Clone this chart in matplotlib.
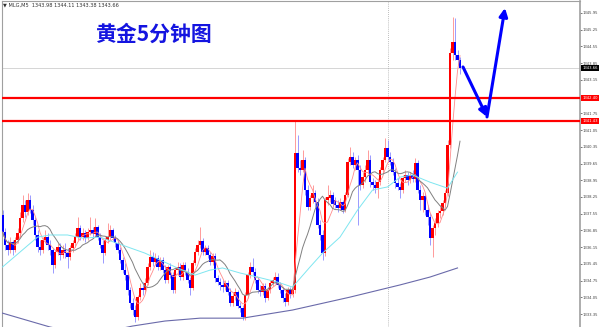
import matplotlib
matplotlib.use("Agg")
import matplotlib.pyplot as plt
import matplotlib.transforms as mtransforms
import numpy as np
import pandas as pd

# 5 minute gold candles (oldest first)
opens = [
    1337.49, 1336.78, 1336.24, 1336.03, 1336.36, 1336.03, 1336.45, 1336.74, 1337.37, 1337.91,
    1337.62, 1338.12, 1337.70, 1337.28, 1336.66, 1336.16, 1336.03, 1336.45, 1336.57, 1336.24,
    1336.03, 1335.40, 1335.95, 1336.16, 1335.82, 1336.03, 1335.90, 1335.74, 1336.11, 1336.32,
    1336.57, 1336.95, 1336.57, 1336.74, 1336.53, 1336.78, 1336.87, 1336.70, 1336.99, 1336.57,
    1336.24, 1335.90, 1336.45, 1336.57, 1336.87, 1336.53, 1336.32, 1336.03, 1335.61, 1335.19,
    1334.98, 1334.36, 1333.81, 1333.52, 1333.23, 1334.06, 1334.44, 1334.36, 1334.65, 1335.32,
    1335.74, 1335.53, 1335.70, 1335.32, 1335.61, 1335.19, 1334.77, 1335.32, 1334.98, 1334.36,
    1335.19, 1335.32, 1334.90, 1335.40, 1335.11, 1334.77, 1334.44, 1335.49, 1335.95, 1336.24,
    1336.41, 1335.95, 1336.11, 1335.82, 1335.53, 1335.78, 1334.86, 1334.69, 1334.57, 1334.48,
    1334.65, 1334.27, 1333.81, 1334.11, 1334.27, 1333.69, 1333.60, 1333.23, 1334.15, 1334.98,
    1335.32, 1335.11, 1334.77, 1334.36, 1334.27, 1334.52, 1334.02, 1334.36, 1334.65, 1334.77,
    1334.90, 1334.57, 1334.36, 1334.02, 1333.85, 1334.36, 1334.19, 1334.36, 1340.09, 1339.46,
    1339.38, 1339.80, 1338.54, 1337.83, 1338.21, 1338.41, 1338.04, 1337.08, 1336.66, 1335.90,
    1338.12, 1338.21, 1338.33, 1338.12, 1337.91, 1337.79, 1338.04, 1337.70, 1338.33, 1339.71,
    1339.92, 1339.59, 1339.80, 1339.38, 1338.75, 1339.08, 1339.38, 1339.80, 1338.87, 1338.75,
    1338.62, 1338.87, 1339.38, 1339.80, 1340.30, 1339.92, 1339.71, 1339.29, 1338.83, 1338.67,
    1338.54, 1339.04, 1339.17, 1338.96, 1339.17, 1339.00, 1339.67, 1338.54, 1338.12, 1338.29,
    1337.70, 1337.41, 1336.53, 1336.95, 1337.16, 1337.58, 1337.66, 1338.00, 1338.41, 1340.42,
    1344.27, 1344.73, 1344.19, 1343.98,
]
highs = [
    1337.70, 1336.95, 1336.45, 1336.57, 1336.45, 1336.57, 1336.95, 1337.62, 1338.33, 1338.12,
    1338.41, 1338.33, 1337.91, 1337.41, 1336.87, 1336.45, 1336.57, 1336.87, 1336.74, 1336.45,
    1336.11, 1336.03, 1336.32, 1336.32, 1336.24, 1336.32, 1336.11, 1336.24, 1336.45, 1336.74,
    1337.41, 1337.08, 1336.95, 1336.87, 1336.95, 1337.41, 1336.99, 1337.37, 1337.08, 1336.74,
    1336.45, 1336.57, 1337.16, 1337.08, 1336.95, 1336.66, 1336.45, 1336.16, 1335.74, 1335.49,
    1335.11, 1334.48, 1334.02, 1333.73, 1334.15, 1334.65, 1334.69, 1334.86, 1335.49, 1336.03,
    1335.95, 1335.90, 1335.82, 1335.74, 1335.74, 1335.40, 1335.40, 1335.49, 1335.11, 1335.32,
    1335.53, 1335.49, 1335.53, 1335.53, 1335.28, 1334.90, 1335.61, 1336.11, 1336.45, 1336.99,
    1336.53, 1336.24, 1336.24, 1335.95, 1335.90, 1335.90, 1334.98, 1334.86, 1334.77, 1334.77,
    1334.77, 1334.44, 1334.27, 1334.44, 1334.36, 1333.85, 1333.73, 1334.27, 1335.11, 1335.53,
    1335.70, 1335.28, 1334.90, 1334.57, 1334.65, 1334.65, 1334.48, 1334.77, 1334.90, 1335.11,
    1335.07, 1334.69, 1334.48, 1334.23, 1334.48, 1334.48, 1334.52, 1341.43, 1340.84, 1339.80,
    1340.21, 1339.92, 1338.75, 1338.33, 1338.75, 1338.54, 1338.21, 1337.28, 1336.87, 1338.25,
    1338.75, 1338.54, 1338.46, 1338.25, 1338.12, 1338.21, 1338.12, 1338.46, 1339.88, 1340.34,
    1340.13, 1339.92, 1340.00, 1339.59, 1339.29, 1339.59, 1340.21, 1340.00, 1339.04, 1338.96,
    1339.04, 1339.50, 1339.92, 1340.72, 1340.63, 1340.13, 1339.88, 1339.46, 1339.04, 1338.83,
    1339.17, 1339.38, 1339.29, 1339.29, 1339.38, 1339.88, 1339.80, 1338.75, 1338.46, 1338.41,
    1337.91, 1337.58, 1337.08, 1337.37, 1337.70, 1337.91, 1338.12, 1338.54, 1340.63, 1344.48,
    1345.78, 1345.74, 1344.40, 1344.11,
]
lows = [
    1336.62, 1336.03, 1335.82, 1335.90, 1335.82, 1335.95, 1336.32, 1336.57, 1337.20, 1337.41,
    1337.49, 1337.58, 1337.08, 1336.45, 1335.95, 1335.82, 1335.90, 1336.32, 1336.03, 1335.82,
    1335.07, 1335.28, 1335.82, 1335.61, 1335.70, 1335.70, 1335.28, 1335.61, 1335.95, 1336.16,
    1336.45, 1336.45, 1336.45, 1336.36, 1336.45, 1336.66, 1336.53, 1336.57, 1336.45, 1336.11,
    1335.49, 1335.82, 1336.32, 1336.45, 1336.41, 1336.16, 1335.90, 1335.49, 1335.07, 1334.77,
    1334.15, 1333.60, 1333.31, 1333.02, 1333.10, 1333.94, 1334.15, 1334.23, 1334.57, 1335.19,
    1335.36, 1335.40, 1335.19, 1335.19, 1335.07, 1334.65, 1334.65, 1334.86, 1334.23, 1334.23,
    1334.98, 1334.77, 1334.77, 1334.98, 1334.65, 1334.15, 1334.36, 1335.40, 1335.82, 1336.11,
    1335.82, 1335.82, 1335.70, 1335.40, 1335.40, 1334.69, 1334.57, 1334.36, 1334.27, 1334.36,
    1334.15, 1333.69, 1333.69, 1333.94, 1333.60, 1333.44, 1333.10, 1333.10, 1334.02, 1334.86,
    1334.98, 1334.65, 1334.23, 1334.11, 1334.15, 1333.85, 1333.94, 1334.23, 1334.52, 1334.65,
    1334.44, 1334.23, 1333.85, 1333.69, 1333.73, 1334.02, 1334.06, 1334.23, 1339.29, 1339.17,
    1339.29, 1338.33, 1337.70, 1337.70, 1338.00, 1337.83, 1336.95, 1336.45, 1335.61, 1335.78,
    1337.91, 1338.04, 1337.83, 1337.79, 1337.62, 1337.70, 1337.58, 1337.62, 1338.25, 1339.59,
    1339.46, 1339.38, 1337.08, 1338.54, 1338.62, 1338.87, 1339.25, 1338.67, 1338.54, 1338.41,
    1338.21, 1338.75, 1339.25, 1339.71, 1339.80, 1339.59, 1339.17, 1338.62, 1338.54, 1338.21,
    1338.41, 1338.87, 1338.75, 1338.83, 1338.87, 1338.87, 1338.41, 1337.70, 1337.62, 1337.49,
    1337.08, 1336.24, 1335.74, 1336.66, 1336.99, 1337.37, 1337.49, 1337.83, 1338.29, 1340.30,
    1343.98, 1343.98, 1343.77, 1343.38,
]
closes = [
    1336.78, 1336.24, 1336.03, 1336.36, 1336.03, 1336.45, 1336.74, 1337.37, 1337.91, 1337.62,
    1338.12, 1337.70, 1337.28, 1336.66, 1336.16, 1336.03, 1336.45, 1336.57, 1336.24, 1336.03,
    1335.40, 1335.95, 1336.16, 1335.82, 1336.03, 1335.90, 1335.74, 1336.11, 1336.32, 1336.57,
    1336.95, 1336.57, 1336.74, 1336.53, 1336.78, 1336.87, 1336.70, 1336.99, 1336.57, 1336.24,
    1335.90, 1336.45, 1336.57, 1336.87, 1336.53, 1336.32, 1336.03, 1335.61, 1335.19, 1334.98,
    1334.36, 1333.81, 1333.52, 1333.23, 1334.06, 1334.44, 1334.36, 1334.65, 1335.32, 1335.74,
    1335.53, 1335.70, 1335.32, 1335.61, 1335.19, 1334.77, 1335.32, 1334.98, 1334.36, 1335.19,
    1335.32, 1334.90, 1335.40, 1335.11, 1334.77, 1334.44, 1335.49, 1335.95, 1336.24, 1336.41,
    1335.95, 1336.11, 1335.82, 1335.53, 1335.78, 1334.86, 1334.69, 1334.57, 1334.48, 1334.65,
    1334.27, 1333.81, 1334.11, 1334.27, 1333.69, 1333.60, 1333.23, 1334.15, 1334.98, 1335.32,
    1335.11, 1334.77, 1334.36, 1334.27, 1334.52, 1334.02, 1334.36, 1334.65, 1334.77, 1334.90,
    1334.57, 1334.36, 1334.02, 1333.85, 1334.36, 1334.19, 1334.36, 1340.09, 1339.46, 1339.38,
    1339.80, 1338.54, 1337.83, 1338.21, 1338.41, 1338.04, 1337.08, 1336.66, 1335.90, 1338.12,
    1338.25, 1338.33, 1337.95, 1337.91, 1337.79, 1338.04, 1337.70, 1338.33, 1339.71, 1339.92,
    1339.59, 1339.80, 1339.38, 1338.75, 1339.08, 1339.38, 1339.80, 1338.87, 1338.75, 1338.62,
    1338.87, 1339.38, 1339.80, 1340.30, 1339.92, 1339.71, 1339.29, 1338.83, 1338.67, 1338.54,
    1339.04, 1339.17, 1338.96, 1339.17, 1339.00, 1339.67, 1338.54, 1338.12, 1338.29, 1337.70,
    1337.41, 1336.53, 1336.95, 1337.16, 1337.58, 1337.66, 1338.00, 1338.41, 1340.42, 1344.27,
    1344.73, 1344.19, 1343.98, 1343.66,
]

# slower averages, read as points (their history starts left of the screen)
cyan_idx = [0, 14, 19, 26, 32, 39, 57, 70, 77, 83, 88, 95, 102, 110, 116, 123, 128, 135, 142,
            148, 154, 159, 164, 171, 178, 182]
cyan_val = [1335.32, 1336.57, 1336.66, 1336.66, 1336.53, 1336.57, 1335.90, 1335.28, 1334.98,
            1335.19, 1335.28, 1335.07, 1334.90, 1334.69, 1334.48, 1335.32, 1335.90, 1336.57,
            1337.70, 1338.54, 1338.67, 1339.08, 1339.17, 1338.87, 1338.62, 1339.29]
slow_idx = [0, 19, 35, 52, 65, 79, 96, 116, 139, 159, 171, 182]
slow_val = [1333.39, 1332.81, 1332.47, 1332.85, 1333.06, 1333.18, 1333.18, 1333.52, 1334.06,
            1334.57, 1334.90, 1335.28]

levels = [1342.40, 1341.43]
last_price = 1343.66
yticks = [1345.95, 1345.25, 1344.55, 1343.85, 1343.15, 1341.75, 1341.05, 1340.35, 1339.65,
          1338.95, 1338.25, 1337.55, 1336.85, 1336.15, 1335.45, 1334.75, 1334.05, 1333.35]
# hand drawn forecast: down to the support, then up
path_idx = [184.2, 193.8, 201.0]
path_val = [1343.69, 1341.60, 1346.16]
session_mark = 154.2

o = np.array(opens)
h = np.array(highs)
l = np.array(lows)
c = np.array(closes)
idx = np.arange(len(c))
up = c >= o

fig = plt.figure(figsize=(6, 3.27), dpi=100)
ax = fig.add_axes([2 / 600, 0, 578 / 600, 326 / 327])
ax.set_xlim(-0.2, 231)
ax.set_ylim(1332.81, 1346.45)

ax.axhline(last_price, color="#cfcfcf", lw=0.6, zorder=1)
ax.axvline(session_mark, color="#a8a8a8", lw=0.6, ls=(0, (1, 1.5)), zorder=1)

wick_cols = np.where(up, "#ff9a9a", "#9a9aff")
body_cols = np.where(up, "#ff0000", "#0000ff")
ax.vlines(idx, l, h, colors=wick_cols, lw=0.7, zorder=2)
ax.bar(idx, np.maximum(np.abs(c - o), 0.03), bottom=np.minimum(o, c), width=0.9,
       color=body_cols, linewidth=0, zorder=3)

s = pd.Series(c)
ax.plot(idx, s.rolling(5, min_periods=1).mean(), color="#ff8c8c", lw=0.6, zorder=4)
ax.plot(idx, s.rolling(12, min_periods=1).mean(), color="#808080", lw=0.7, zorder=4)
ax.plot(cyan_idx, cyan_val, color="#7ee6f0", lw=0.7, zorder=4)
ax.plot(slow_idx, slow_val, color="#6a6aaa", lw=0.8, zorder=4)

for lv in levels:
    ax.axhline(lv, color="#ff0000", lw=1.6, zorder=5)

for i in range(2):
    ax.annotate("", xy=(path_idx[i + 1], path_val[i + 1]), xytext=(path_idx[i], path_val[i]),
                arrowprops=dict(arrowstyle="-|>", color="#0000ff", lw=2.2,
                                mutation_scale=12, shrinkA=0, shrinkB=0), zorder=6)

ax.yaxis.tick_right()
ax.set_yticks(yticks)
ax.set_yticklabels(["%.2f" % t for t in yticks])
ax.tick_params(axis="y", labelsize=2.7, colors="#404040", length=1.5, width=0.5, pad=0.6)
ax.set_xticks([])
for side in ["top", "left", "right"]:
    ax.spines[side].set_color("#a0a0a0")
ax.spines["right"].set_linewidth(1.2)
ax.spines["bottom"].set_visible(False)

tr = mtransforms.blended_transform_factory(ax.transAxes, ax.transData)
for lv in levels:
    ax.text(1.004, lv, "%.2f" % lv, transform=tr, fontsize=2.7, color="white", va="center",
            ha="left", clip_on=False, zorder=7,
            bbox=dict(boxstyle="square,pad=0.25", fc="#ff0000", ec="none"))
ax.text(1.004, last_price, "%.2f" % last_price, transform=tr, fontsize=2.7, color="white",
        va="center", ha="left", clip_on=False, zorder=7,
        bbox=dict(boxstyle="square,pad=0.25", fc="#000000", ec="none"))

fig.text(3 / 600, 1 - 5 / 327, "\u25bc MLG,M5  %.2f %.2f %.2f %.2f" % (o[-1], h[-1], l[-1], c[-1]),
         fontsize=3.6, color="#303030", va="center", ha="left")
fig.text(95 / 600, 1 - 34 / 327, "黄金5分钟图", fontsize=15, fontweight="bold",
         color="#1414e0", va="center", ha="left",
         family=["Noto Sans CJK SC", "DejaVu Sans"])

fig.savefig("out.png", dpi=100)
